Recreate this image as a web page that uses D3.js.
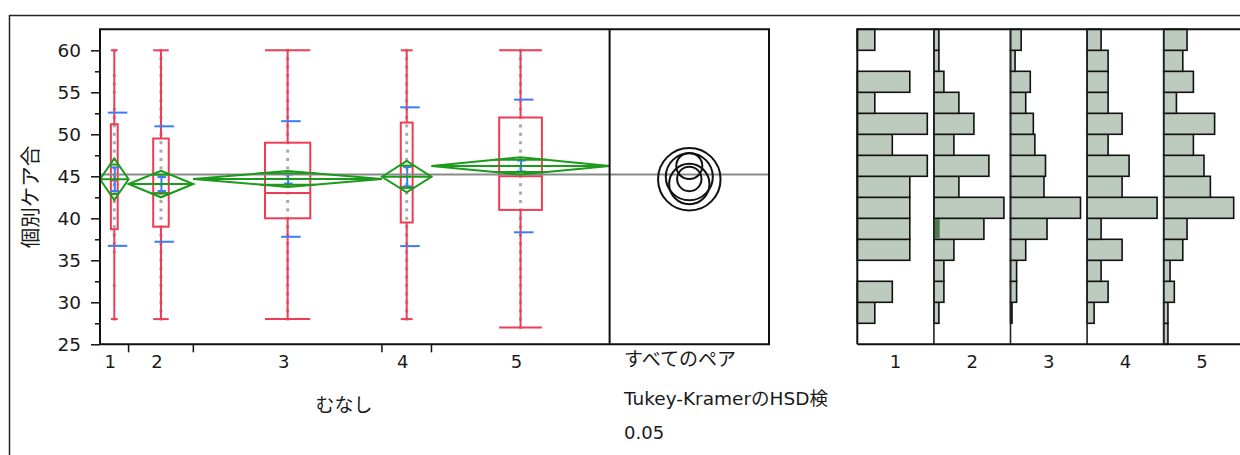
<!DOCTYPE html>
<html><head><meta charset="utf-8">
<script src="https://cdn.jsdelivr.net/npm/d3@7"></script>
<style>
body{margin:0;background:#fff}
svg{display:block}
text{font-family:"DejaVu Sans","Noto Sans CJK JP",sans-serif;fill:#1a1a1a}
</style>
</head><body><svg id="c" width="1240" height="455"></svg>
<script>
// ---- data ----
const groups = ["1", "2", "3", "4", "5"];
const groupN = [30, 68, 198, 52, 187];
const boxQ1 = [38.7, 39, 40, 39.5, 41];
const boxMedian = [44.5, 43, 43, 43.7, 45];
const boxQ3 = [51.2, 49.5, 49, 51.4, 52];
const whiskerLow = [28, 28, 28, 28, 27];
const whiskerHigh = [60, 60, 60, 60, 60];
const groupMean = [44.65, 44.08, 44.68, 44.95, 46.23];
const ciHalf = [2.48, 1.58, 0.95, 1.87, 1.03];
const stdErr = [1.4, 0.83, 0.54, 1.15, 0.65];
const stdDev = [7.93, 6.87, 6.88, 8.26, 7.9];
const grandMean = 45.2;
const circleRadius = [3.72, 2.4, 1.45, 2.8, 1.55];

const points1 = [28, 32, 36, 37, 38, 39, 40, 41, 42, 43, 44, 45, 46, 47, 48, 49, 50, 51, 52, 53, 55, 56, 57, 60];
const points2 = [28, 29, 30, 31, 32, 33, 34, 35, 36, 37, 38, 39, 40, 41, 42, 43, 44, 45, 46, 47, 48, 49, 50, 51, 52, 53, 54, 55, 56, 57, 58, 59, 60];
const points3 = [28, 29, 30, 31, 32, 33, 34, 35, 36, 37, 38, 39, 40, 41, 42, 43, 44, 45, 46, 47, 48, 49, 50, 51, 52, 53, 54, 55, 56, 57, 58, 59, 60];
const points4 = [28, 29, 30, 31, 32, 33, 34, 35, 36, 37, 38, 39, 40, 41, 42, 43, 44, 45, 46, 47, 48, 49, 50, 51, 52, 53, 54, 55, 56, 57, 58, 59, 60];
const points5 = [27, 28, 29, 30, 31, 32, 33, 34, 35, 36, 37, 38, 39, 40, 41, 42, 43, 44, 45, 46, 47, 48, 49, 50, 51, 52, 53, 54, 55, 56, 57, 58, 59, 60];

const yTicks = [25, 30, 35, 40, 45, 50, 55, 60];
const yMinorTicks = [27.5, 32.5, 37.5, 42.5, 47.5, 52.5, 57.5];

// histogram bins (lower edges, width 2.5) and counts per group, low to high
const binStarts = [25, 27.5, 30, 32.5, 35, 37.5, 40, 42.5, 45, 47.5, 50, 52.5, 55, 57.5, 60];
const hist1 = [0, 1, 2, 0, 3, 3, 3, 3, 4, 2, 4, 1, 3, 0, 1];
const hist2 = [0, 1, 2, 2, 4, 10, 14, 5, 11, 4, 8, 5, 2, 1, 1];
const hist3 = [0, 1, 4, 4, 10, 24, 46, 22, 23, 16, 15, 10, 13, 3, 7];
const hist4 = [0, 1, 3, 2, 5, 2, 10, 5, 6, 3, 5, 3, 3, 3, 2];
const hist5 = [2, 2, 5, 3, 9, 11, 33, 22, 19, 14, 24, 6, 14, 9, 11];
const hist2Selected = [0, 0, 0, 0, 0, 1, 0, 0, 0, 0, 0, 0, 0, 0, 0];

// ---- layout ----
const svg = d3.select("#c");
const plotL = 100, plotR = 609.6, pairR = 769, plotT = 29.3, plotB = 344.3;
const histL = 857.3, histPanelW = 76.6, histBarMax = 70;

const RED = "#ee3d55", BLUE = "#3d7bf7", GREEN = "#1c9a1c", PTS = "#a9a9a9";

const y = d3.scaleLinear().domain([25, 62.5]).range([plotB, plotT]);

// category positions proportional to group size
const cum = [0];
groupN.forEach(n => cum.push(cum[cum.length - 1] + n));
const xc = d3.scaleLinear().domain([0, cum[cum.length - 1]]).range([plotL, plotR]);
const bands = groups.map((g, i) => ({
  g, i, x0: xc(cum[i]), x1: xc(cum[i + 1]),
  cx: (xc(cum[i]) + xc(cum[i + 1])) / 2, w: xc(cum[i + 1]) - xc(cum[i])
}));

// outer report frame
svg.append("path").attr("d", "M9.5,455 V15.5 H1240")
  .attr("fill", "none").attr("stroke", "#222").attr("stroke-width", 1.5);

// y axis
const yAxis = svg.append("g").attr("transform", `translate(${plotL},0)`)
  .call(d3.axisLeft(y).tickValues(yTicks).tickSize(9).tickPadding(10).tickFormat(d3.format("d")));
yAxis.select(".domain").remove();
yAxis.selectAll(".tick line").attr("stroke", "#111").attr("stroke-width", 1.5);
yAxis.selectAll(".tick text").attr("font-size", 18.5).attr("fill", "#1a1a1a")
  .attr("font-family", "DejaVu Sans");
svg.append("g").attr("transform", `translate(${plotL},0)`)
  .call(d3.axisLeft(y).tickValues(yMinorTicks).tickSize(5).tickFormat(""))
  .call(g => g.select(".domain").remove())
  .selectAll(".tick line").attr("stroke", "#111").attr("stroke-width", 1.5);

// x axis boundary ticks
svg.append("g").selectAll("line").data(bands.slice(1)).join("line")
  .attr("x1", d => d.x0).attr("x2", d => d.x0)
  .attr("y1", plotB).attr("y2", plotB + 8)
  .attr("stroke", "#111").attr("stroke-width", 1.5);

// x labels
svg.append("g").selectAll("text").data(bands).join("text")
  .attr("x", d => d.cx - 4).attr("y", 361).attr("text-anchor", "middle")
  .attr("dominant-baseline", "central").attr("font-size", 18).text(d => d.g);

svg.append("text").attr("x", 624).attr("y", 359).attr("dominant-baseline", "central")
  .attr("font-size", 19).text("すべてのペア");
svg.append("text").attr("x", 344).attr("y", 405).attr("text-anchor", "middle")
  .attr("dominant-baseline", "central").attr("font-size", 19).text("むなし");
svg.append("text").attr("x", 624).attr("y", 398).attr("dominant-baseline", "central")
  .attr("font-size", 18.5).text("Tukey-KramerのHSD検");
svg.append("text").attr("x", 624).attr("y", 432).attr("dominant-baseline", "central")
  .attr("font-size", 18).text("0.05");
svg.append("text").attr("transform", "translate(31,197) rotate(-90)")
  .attr("text-anchor", "middle").attr("dominant-baseline", "central")
  .attr("font-size", 20.5).text("個別ケア合");

// data points
const pointSets = [points1, points2, points3, points4, points5];
const gp = svg.append("g");
bands.forEach(b => {
  gp.selectAll(null).data(pointSets[b.i]).join("rect")
    .attr("x", b.cx - 1.5).attr("y", v => y(v) - 1.5)
    .attr("width", 3).attr("height", 3).attr("fill", PTS);
});

// box plots
const gb = svg.append("g").attr("stroke", RED).attr("stroke-width", 2).attr("fill", "none");
bands.forEach(b => {
  const bw = b.w * 0.24, i = b.i;
  gb.append("line").attr("x1", b.cx).attr("x2", b.cx).attr("y1", y(whiskerHigh[i])).attr("y2", y(boxQ3[i]));
  gb.append("line").attr("x1", b.cx).attr("x2", b.cx).attr("y1", y(boxQ1[i])).attr("y2", y(whiskerLow[i]));
  gb.append("line").attr("x1", b.cx - bw / 2).attr("x2", b.cx + bw / 2).attr("y1", y(whiskerHigh[i])).attr("y2", y(whiskerHigh[i]));
  gb.append("line").attr("x1", b.cx - bw / 2).attr("x2", b.cx + bw / 2).attr("y1", y(whiskerLow[i])).attr("y2", y(whiskerLow[i]));
  gb.append("rect").attr("x", b.cx - bw / 2).attr("width", bw)
    .attr("y", y(boxQ3[i])).attr("height", y(boxQ1[i]) - y(boxQ3[i]));
  gb.append("line").attr("x1", b.cx - bw / 2).attr("x2", b.cx + bw / 2).attr("y1", y(boxMedian[i])).attr("y2", y(boxMedian[i]));
});

// std dev lines and mean error bars
const gs = svg.append("g").attr("stroke", BLUE).attr("stroke-width", 2);
bands.forEach(b => {
  const i = b.i;
  [groupMean[i] + stdDev[i], groupMean[i] - stdDev[i]].forEach(v => {
    gs.append("line").attr("x1", b.cx - 6.5).attr("x2", b.cx + 13).attr("y1", y(v)).attr("y2", y(v));
  });
  gs.append("line").attr("x1", b.cx + 0.5).attr("x2", b.cx + 0.5)
    .attr("y1", y(groupMean[i] + stdErr[i])).attr("y2", y(groupMean[i] - stdErr[i]));
  [groupMean[i] + stdErr[i], groupMean[i] - stdErr[i]].forEach(v => {
    gs.append("line").attr("x1", b.cx - 3.5).attr("x2", b.cx + 5).attr("y1", y(v)).attr("y2", y(v));
  });
});

// grand mean line
svg.append("line").attr("x1", plotL).attr("x2", pairR)
  .attr("y1", y(grandMean)).attr("y2", y(grandMean))
  .attr("stroke", "#8a8a8a").attr("stroke-width", 2);

// means diamonds with overlap marks
const gd = svg.append("g").attr("stroke", GREEN).attr("stroke-width", 2).attr("fill", "none");
bands.forEach(b => {
  const i = b.i, m = groupMean[i], h = ciHalf[i];
  gd.append("path").attr("d",
    `M${b.x0},${y(m)} L${b.cx},${y(m + h)} L${b.x1},${y(m)} L${b.cx},${y(m - h)} Z`);
  gd.append("line").attr("x1", b.x0).attr("x2", b.x1).attr("y1", y(m)).attr("y2", y(m));
  const k = Math.SQRT1_2, ow = b.w * (1 - k) / 2;
  [m + h * k, m - h * k].forEach(v => {
    gd.append("line").attr("x1", b.cx - ow).attr("x2", b.cx + ow).attr("y1", y(v)).attr("y2", y(v));
  });
});

// comparison circles
const pxPerUnit = y(0) - y(1);
const circCx = (plotR + pairR) / 2;
svg.append("g").selectAll("circle").data(groups).join("circle")
  .attr("cx", circCx).attr("cy", (d, i) => y(groupMean[i]))
  .attr("r", (d, i) => circleRadius[i] * pxPerUnit)
  .attr("fill", "none").attr("stroke", "#111").attr("stroke-width", 2);

// plot frame
svg.append("path")
  .attr("d", `M${plotL},${plotB} V${plotT} H${pairR} V${plotB} H${plotL} M${plotR},${plotT} V${plotB}`)
  .attr("fill", "none").attr("stroke", "#111").attr("stroke-width", 2);

// histograms
const hists = [hist1, hist2, hist3, hist4, hist5];
const binH = y(0) - y(2.5);
hists.forEach((counts, gi) => {
  const left = histL + gi * histPanelW;
  const hx = d3.scaleLinear().domain([0, d3.max(counts)]).range([0, histBarMax]);
  const g = svg.append("g");
  g.selectAll("rect").data(binStarts).join("rect")
    .filter((d, j) => counts[j] > 0)
    .attr("x", left).attr("y", d => y(d + 2.5))
    .attr("width", d => hx(counts[binStarts.indexOf(d)])).attr("height", binH)
    .attr("fill", "#bccbbd").attr("stroke", "#111").attr("stroke-width", 1.6);
  if (gi === 1) {
    g.selectAll(".sel").data(binStarts).join("rect").attr("class", "sel")
      .filter((d, j) => hist2Selected[j] > 0)
      .attr("x", left + 0.8).attr("y", d => y(d + 2.5) + 0.8)
      .attr("width", d => hx(hist2Selected[binStarts.indexOf(d)]))
      .attr("height", binH - 1.6).attr("fill", "#4d7a4f");
  }
  svg.append("text").attr("x", left + histPanelW / 2).attr("y", 361)
    .attr("text-anchor", "middle").attr("dominant-baseline", "central")
    .attr("font-size", 18).text(groups[gi]);
});
// histogram frame and dividers
const histR = histL + 5 * histPanelW;
svg.append("path")
  .attr("d", `M${histL},${plotB} V${plotT} H${histR} M${histL},${plotB} H${histR}`)
  .attr("fill", "none").attr("stroke", "#111").attr("stroke-width", 2);
svg.append("g").selectAll("line").data([1, 2, 3, 4]).join("line")
  .attr("x1", d => histL + d * histPanelW).attr("x2", d => histL + d * histPanelW)
  .attr("y1", plotT).attr("y2", plotB).attr("stroke", "#222").attr("stroke-width", 1.6);
</script>
</body></html>
